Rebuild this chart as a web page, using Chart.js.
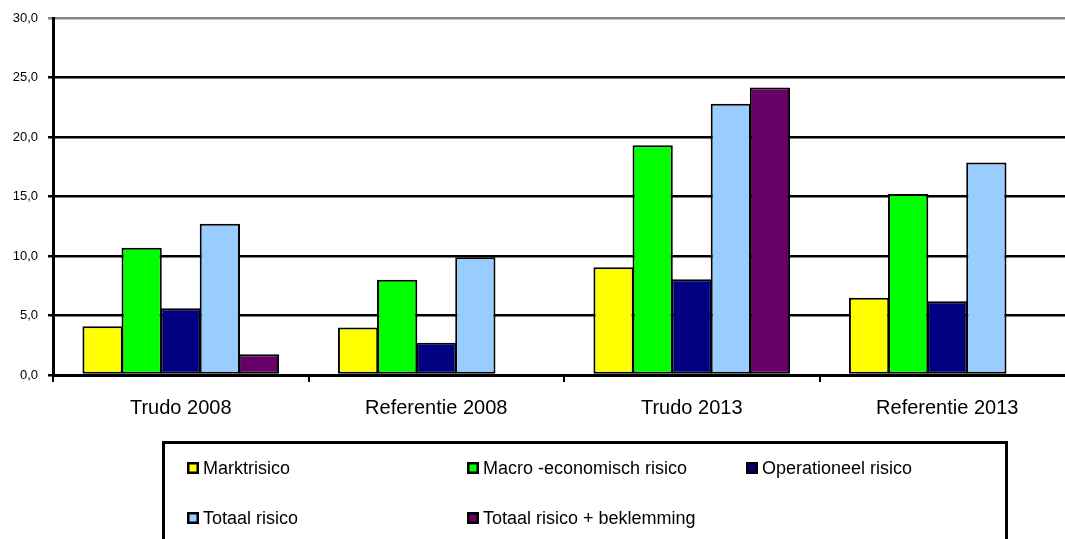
<!DOCTYPE html>
<html>
<head>
<meta charset="utf-8">
<script src="https://cdn.jsdelivr.net/npm/chart.js@4"></script>
<style>
  html, body { margin: 0; padding: 0; background: #fff; overflow: hidden; }
  #wrap { width: 1065px; height: 539px; overflow: hidden; }
</style>
</head>
<body>
<div id="wrap"><canvas id="myChart" width="1080" height="539"></canvas></div>
<script>
// categories and series
const categorieen = ['Trudo 2008', 'Referentie 2008', 'Trudo 2013', 'Referentie 2013'];
const marktrisico = [4.1, 4.0, 9.05, 6.5];
const macroRisico = [10.7, 8.0, 19.3, 15.2];
const operationeelRisico = [5.6, 2.7, 8.05, 6.2];
const totaalRisico = [12.7, 9.9, 22.8, 17.85];
const totaalBeklemming = [1.75, null, 24.15, null];
const yTicks = [0, 5, 10, 15, 20, 25, 30];

const fontName = '"Liberation Sans", Arial, sans-serif';

// legend drawn as a framed box with 3 columns, like the original
const boxLegend = {
    id: 'boxLegend',
    afterDraw(chart) {
        const ctx = chart.ctx;
        ctx.save();
        ctx.strokeStyle = '#000';
        ctx.lineWidth = 3;
        ctx.strokeRect(163.5, 442.5, 843, 120);
        const cols = [187, 467, 746];
        const rows = [468, 518];
        ctx.font = '18px ' + fontName;
        ctx.textBaseline = 'middle';
        chart.data.datasets.forEach(function(ds, i) {
            const x = cols[i % 3];
            const y = rows[Math.floor(i / 3)];
            ctx.fillStyle = '#000';
            ctx.fillRect(x, y - 6, 12, 12);
            ctx.fillStyle = ds.backgroundColor;
            ctx.fillRect(x + 2.5, y - 3.5, 7, 7);
            ctx.fillStyle = '#000';
            ctx.fillText(ds.label, x + 16, y + 1);
        });
        ctx.restore();
    }
};

function serie(label, data, kleur) {
    return {
        label: label,
        data: data,
        backgroundColor: kleur,
        borderColor: '#000',
        borderWidth: 2,
        borderSkipped: false,
        barPercentage: 1.03,
        categoryPercentage: 0.765
    };
}

const ctx = document.getElementById('myChart').getContext('2d');
const myChart = new Chart(ctx, {
    type: 'bar',
    data: {
        labels: categorieen,
        datasets: [
            serie('Marktrisico', marktrisico, '#FFFF00'),
            serie('Macro -economisch risico', macroRisico, '#00FF00'),
            serie('Operationeel risico', operationeelRisico, '#000080'),
            serie('Totaal risico', totaalRisico, '#99CCFF'),
            serie('Totaal risico + beklemming', totaalBeklemming, '#660066')
        ]
    },
    options: {
        responsive: false,
        animation: false,
        layout: { padding: { top: 18, right: 5, left: 0, bottom: 0 } },
        scales: {
            x: {
                offset: true,
                grid: {
                    offset: true,
                    drawOnChartArea: false,
                    drawTicks: true,
                    tickLength: 7,
                    color: '#000',
                    lineWidth: 2
                },
                border: { color: '#000', width: 3 },
                ticks: {
                    color: '#000',
                    padding: 14,
                    font: { family: fontName, size: 20 }
                },
                afterFit: function(scale) { scale.height = 164; }
            },
            y: {
                min: 0,
                max: 30,
                afterBuildTicks: function(scale) {
                    scale.ticks = yTicks.map(function(v) { return { value: v }; });
                },
                grid: {
                    color: function(c) { return c.tick && c.tick.value === 30 ? '#888' : '#000'; },
                    lineWidth: 2.5,
                    tickLength: 5
                },
                border: { color: '#000', width: 3 },
                ticks: {
                    color: '#000',
                    padding: 10,
                    font: { family: fontName, size: 13 },
                    callback: function(v) { return v.toFixed(1).replace('.', ','); }
                },
                afterFit: function(scale) { scale.width = 53; }
            }
        },
        plugins: {
            legend: { display: false },
            tooltip: { enabled: false }
        }
    },
    plugins: [boxLegend]
});
</script>
</body>
</html>
